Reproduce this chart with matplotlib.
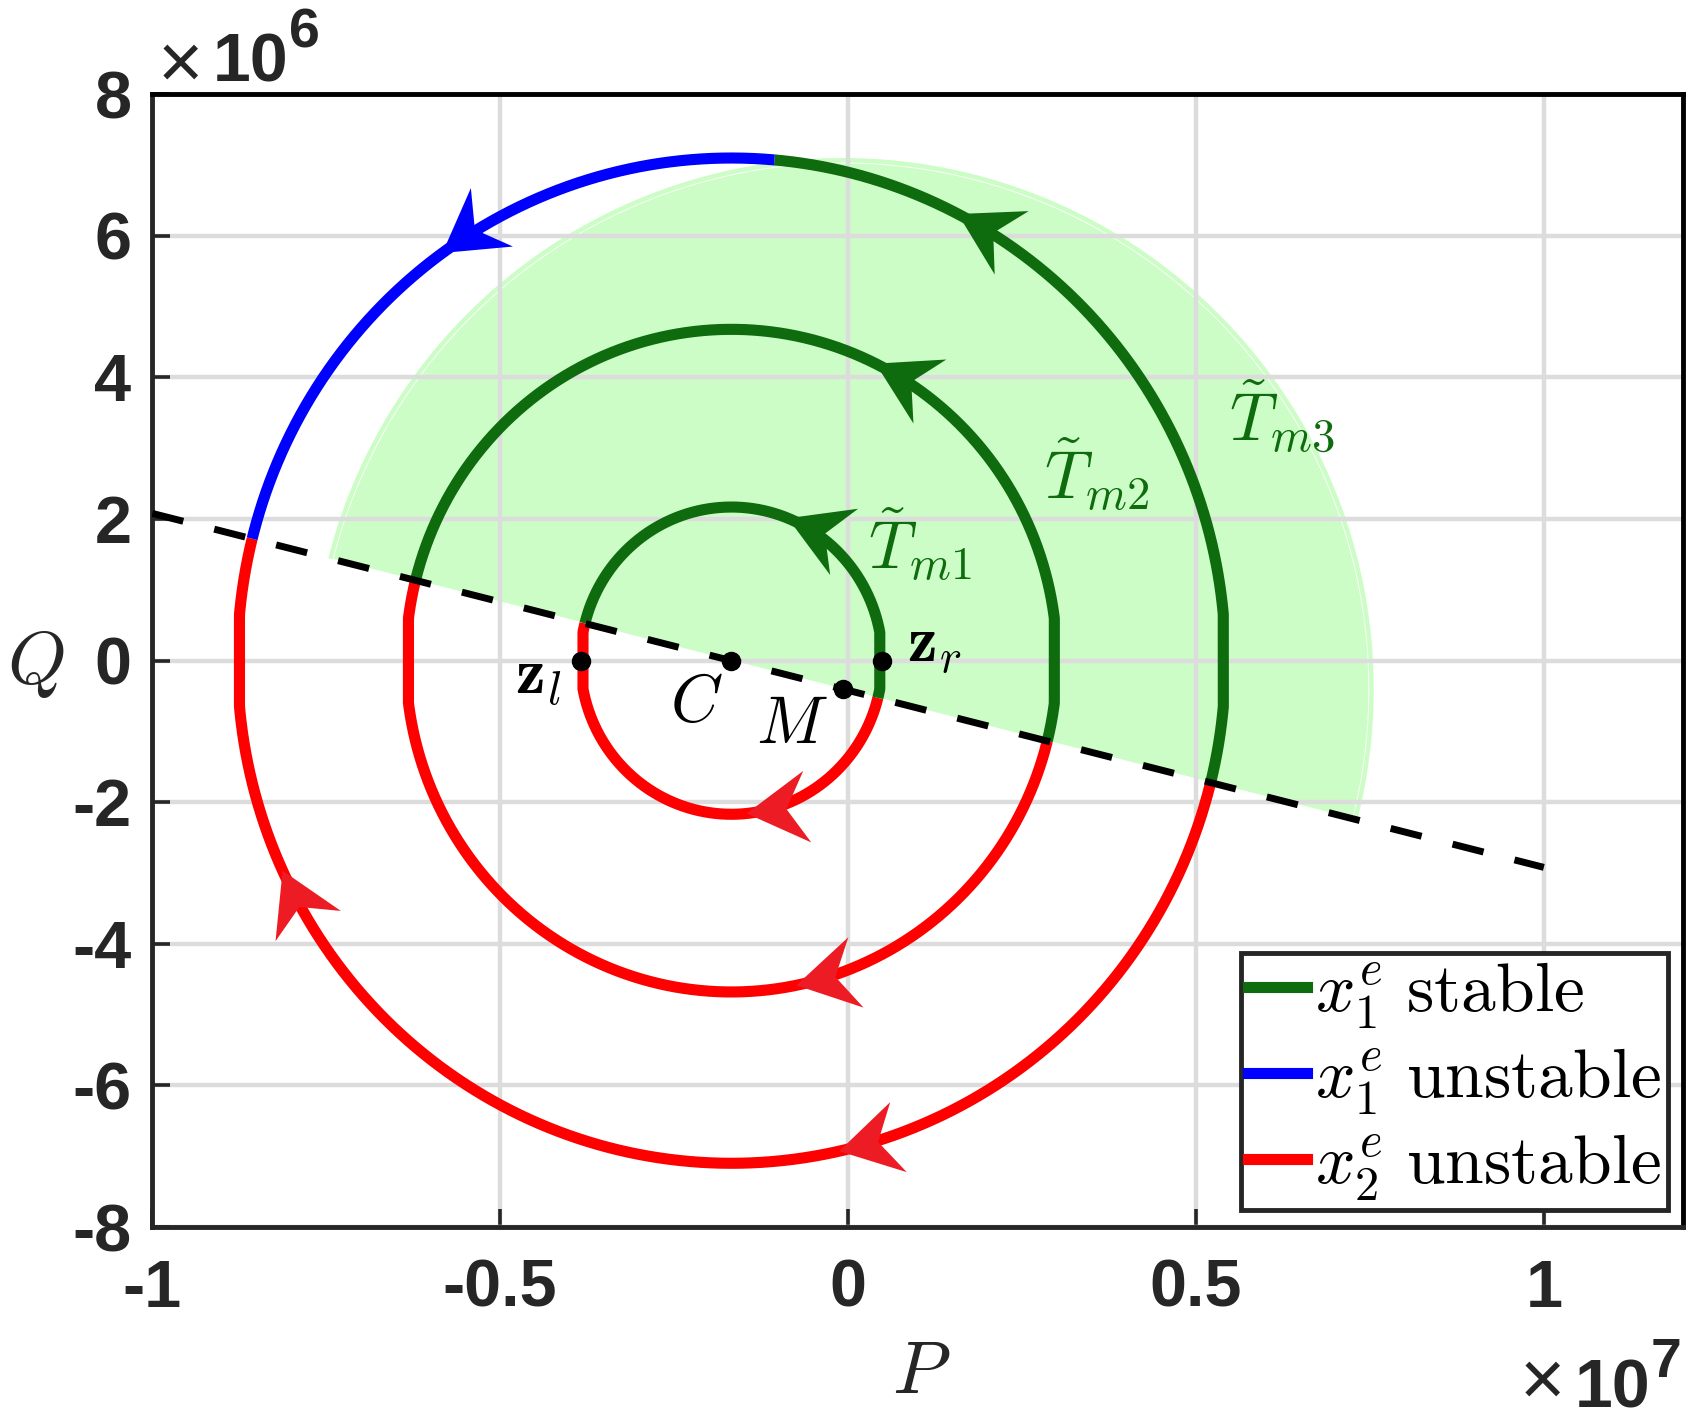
import numpy as np
import matplotlib
matplotlib.use("Agg")
import matplotlib.pyplot as plt
from matplotlib.patches import Polygon
from matplotlib.transforms import Affine2D, ScaledTranslation
from matplotlib.lines import Line2D

plt.rcParams['mathtext.fontset'] = 'cm'
plt.rcParams['font.family'] = ['Liberation Sans', 'DejaVu Sans']

# ---------------- data ----------------
center_P, center_Q = -1.677e6, 0.0          # point C
orbit_radii = [2.17e6, 4.68e6, 7.10e6]       # T_m1, T_m2, T_m3
orbit_flat_half = [0.40e6, 0.60e6, 0.65e6]   # half-height of the straight part near Q=0
switch_angle = -14.036                       # direction of the dashed switching line (deg)
blue_start_angle = 85.0                      # outer orbit: stable -> unstable (deg)
dash_P = [-1.0e7, 1.0e7]
dash_Q = [2.08e6, -2.92e6]
shade_center = (-0.075e6, -0.40e6)
shade_rx, shade_ry = 7.63e6, 7.50e6
point_P = [-3.842e6, -1.677e6, 0.491e6, -0.075e6]   # z_l, C, z_r, M
point_Q = [0.0, 0.0, 0.0, -0.40e6]
arrow_orbit = [0, 1, 2, 2, 0, 1, 2, 2]
arrow_theta = [68.0, 63.7, 62.7, 125.8, 275.8, 281.5, 282.6, 204.7]
arrow_sense = [1, 1, 1, 1, -1, -1, -1, -1]
arrow_kind = ['g', 'g', 'g', 'b', 'r', 'r', 'r', 'r']
curve_labels = [r'$\tilde{T}_{m1}$', r'$\tilde{T}_{m2}$', r'$\tilde{T}_{m3}$']
curve_label_P = [0.28e6, 2.82e6, 5.48e6]
curve_label_Q = [1.30e6, 2.29e6, 3.09e6]
point_labels = [r'$\mathbf{z}_l$', r'$C$', r'$\mathbf{z}_r$', r'$M$']
point_label_P = [-4.115e6, -2.56e6, 0.84e6, -1.32e6]
point_label_Q = [-0.46e6, -0.86e6, -0.01e6, -1.16e6]
xticks = [-1e7, -0.5e7, 0, 0.5e7, 1e7]
xtick_labels = ['-1', '-0.5', '0', '0.5', '1']
yticks = [-8e6, -6e6, -4e6, -2e6, 0, 2e6, 4e6, 6e6, 8e6]
ytick_labels = ['-8', '-6', '-4', '-2', '0', '2', '4', '6', '8']
legend_labels = [r'$x_1^e\ \mathrm{stable}$', r'$x_1^e\ \mathrm{unstable}$',
                 r'$x_2^e\ \mathrm{unstable}$']

GREEN = '#0e6b0e'
BLUE = '#0000ff'
RED = '#ff0000'
ARROW_COL = {'g': GREEN, 'b': BLUE, 'r': '#ed1c24'}
SHADE = '#cdfdc6'
TXT = '#262626'

W, H = 1697, 1422
fx = lambda x: x / W
fy = lambda y: 1 - y / H

fig = plt.figure(figsize=(W / 100, H / 100), dpi=100)
ax = fig.add_axes([fx(152.3), fy(1227), (1683 - 152.3) / W, (1227 - 94.3) / H])
ax.set_xlim(-1e7, 1.2e7)
ax.set_ylim(-8e6, 8e6)


def orbit(k, t0, t1, n=600):
    r, h = orbit_radii[k], orbit_flat_half[k]
    th = np.radians(np.linspace(t0, t1, n))
    lim = np.sqrt(r ** 2 - h ** 2)
    dx = np.clip(r * np.cos(th), -lim, lim)
    return center_P + dx, center_Q + r * np.sin(th)


def orbit_point(k, t):
    r, h = orbit_radii[k], orbit_flat_half[k]
    th = np.radians(t)
    lim = np.sqrt(r ** 2 - h ** 2)
    return center_P + np.clip(r * np.cos(th), -lim, lim), center_Q + r * np.sin(th)


# shaded half disc
t_lo = np.degrees(np.arctan2(-0.25 * shade_rx, shade_ry))
ts = np.radians(np.linspace(t_lo, t_lo + 180, 400))
sx = shade_center[0] + shade_rx * np.cos(ts)
sy = shade_center[1] + shade_ry * np.sin(ts)
ax.add_patch(Polygon(np.column_stack([sx, sy]), closed=True, facecolor=SHADE,
                     edgecolor='none', zorder=1))
sx2 = shade_center[0] + (shade_rx - 0.07e6) * np.cos(ts)
sy2 = shade_center[1] + (shade_ry - 0.07e6) * np.sin(ts)
ax.plot(np.append(sx2, sx2[0]), np.append(sy2, sy2[0]), color='white', lw=0.7,
        alpha=0.9, zorder=1.2)

# grid
ax.set_axisbelow('line')
ax.grid(True, color='#dcdcdc', lw=3.2)

LW = 8.0
sw = switch_angle
for k in range(3):
    rp, rq = orbit(k, sw + 180, sw + 360)
    ax.plot(rp, rq, color=RED, lw=LW, solid_capstyle='butt', zorder=3)
    if k < 2:
        gp, gq = orbit(k, sw, sw + 180)
        ax.plot(gp, gq, color=GREEN, lw=LW, solid_capstyle='butt', zorder=3)
    else:
        gp, gq = orbit(k, sw, blue_start_angle)
        ax.plot(gp, gq, color=GREEN, lw=LW, solid_capstyle='butt', zorder=3)
        bp, bq = orbit(k, blue_start_angle, sw + 180)
        ax.plot(bp, bq, color=BLUE, lw=LW, solid_capstyle='butt', zorder=3)

# dashed switching line
ax.plot(dash_P, dash_Q, color='k', lw=5.0, linestyle=(0, (4.6, 4.6)), zorder=4)

# arrowheads (stealth shape, pixel units)
head = np.array([[0, 0], [-61, 36], [-40, 0], [-61, -36]], dtype=float)
for k, t, s, c in zip(arrow_orbit, arrow_theta, arrow_sense, arrow_kind):
    p, q = orbit_point(k, t)
    p2, q2 = orbit_point(k, t - s * 1.0)
    d0 = ax.transData.transform((p, q))
    d1 = ax.transData.transform((p2, q2))
    ang = np.arctan2(d0[1] - d1[1], d0[0] - d1[0])
    tr = Affine2D().rotate(ang) + ScaledTranslation(p, q, ax.transData)
    ax.add_patch(Polygon(head, closed=True, facecolor=ARROW_COL[c], edgecolor='none',
                         transform=tr, zorder=5))

# points
ax.plot(point_P, point_Q, 'o', color='k', ms=13, zorder=6, linestyle='none')

# labels
for lab, p, q in zip(curve_labels, curve_label_P, curve_label_Q):
    ax.text(p, q, lab, color=GREEN, fontsize=48, ha='left', va='baseline', zorder=7)
for i, (lab, p, q) in enumerate(zip(point_labels, point_label_P, point_label_Q)):
    ax.text(p, q, lab, color='k', fontsize=48, ha='right' if i == 0 else 'left',
            va='baseline', zorder=7)

# axes styling
ax.set_xticks(xticks)
ax.set_xticklabels(xtick_labels, fontweight='bold', fontsize=48, color=TXT)
ax.set_yticks(yticks)
ax.set_yticklabels(ytick_labels, fontweight='bold', fontsize=48, color=TXT)
ax.tick_params(axis='both', direction='in', length=13, width=2.6, color=TXT)
ax.tick_params(axis='x', pad=23)
ax.tick_params(axis='y', pad=15)
for side in ['top', 'right']:
    ax.spines[side].set_color('k')
for side in ['left', 'bottom']:
    ax.spines[side].set_color(TXT)
for sp in ax.spines.values():
    sp.set_linewidth(3.5)

ax.set_xlabel(r'$P$', fontsize=54, color=TXT, va='baseline', ha='center')
ax.xaxis.set_label_coords(fx(921), fy(1393), transform=fig.transFigure)
ax.set_ylabel(r'$Q$', fontsize=54, color=TXT, rotation=0, va='baseline', ha='center')
ax.yaxis.set_label_coords(fx(36), fy(684), transform=fig.transFigure)

# exponent labels
fig.text(fx(158), fy(88), '\u00d7', fontsize=56, color=TXT, ha='left', va='baseline')
fig.text(fx(213), fy(82), '10', fontsize=49, fontweight='bold', color=TXT,
         ha='left', va='baseline')
fig.text(fx(289), fy(47), '6', fontsize=40, fontweight='bold', color=TXT,
         ha='left', va='baseline')
fig.text(fx(1520), fy(1421), '\u00d7', fontsize=56, color=TXT, ha='left', va='bottom')
fig.text(fx(1575), fy(1421), '10', fontsize=49, fontweight='bold', color=TXT,
         ha='left', va='bottom')
fig.text(fx(1651), fy(1377), '7', fontsize=40, fontweight='bold', color=TXT,
         ha='left', va='baseline')

# legend
handles = [Line2D([], [], color=GREEN, lw=8), Line2D([], [], color=BLUE, lw=8),
           Line2D([], [], color=RED, lw=8)]
leg = ax.legend(handles, legend_labels, loc='upper right',
                bbox_to_anchor=(fx(1668), fy(953)), bbox_transform=fig.transFigure,
                borderaxespad=0, borderpad=0.1, handlelength=0.84, handletextpad=0.12,
                labelspacing=0.22, fontsize=50, fancybox=False, framealpha=1,
                edgecolor=TXT)
leg.get_frame().set_linewidth(3.5)
leg.set_zorder(10)

fig.savefig('out.png', dpi=100)
